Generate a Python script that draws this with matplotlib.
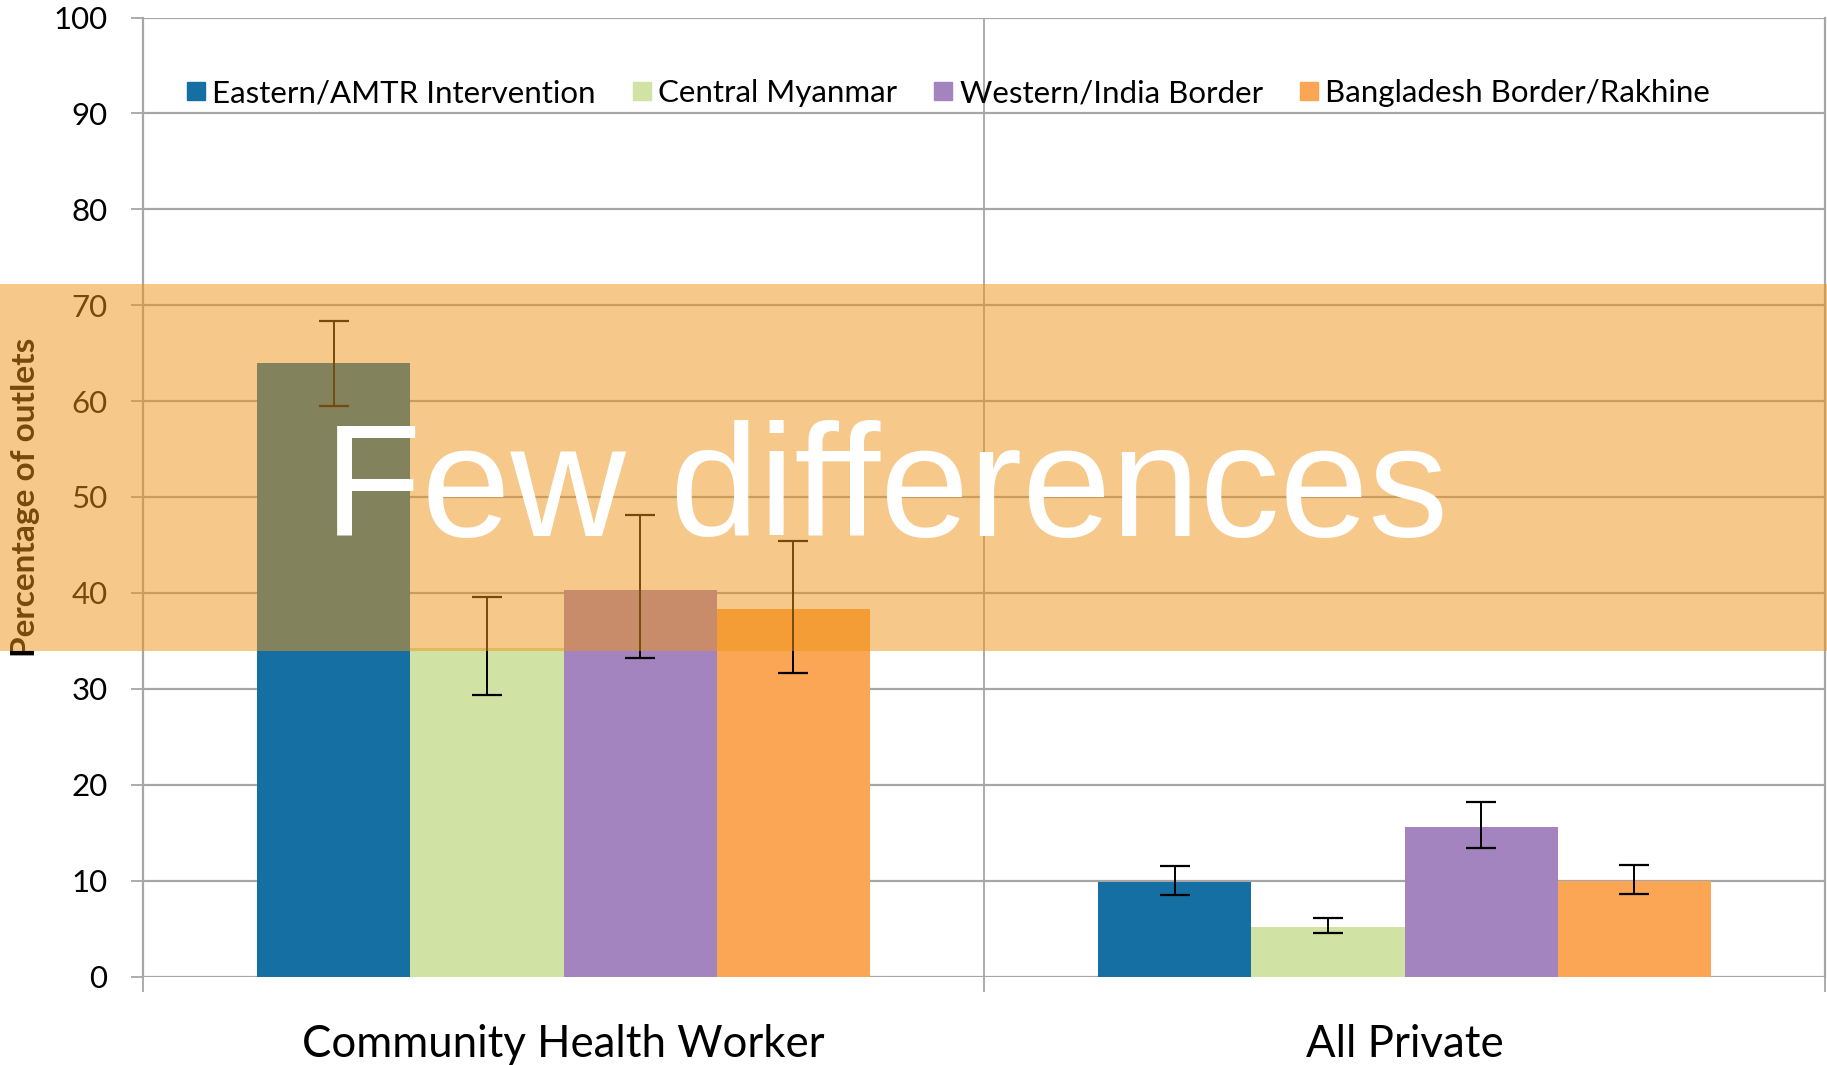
import matplotlib.pyplot as plt
import matplotlib.patches as mpatches
import matplotlib.transforms as mtransforms
from matplotlib.lines import Line2D
import numpy as np

# Data
groups = ['Community Health Worker', 'All Private']
regions = ['Eastern/AMTR Intervention', 'Central Myanmar',
           'Western/India Border', 'Bangladesh Border/Rakhine']
colors = ['#166fa3', '#d1e2a5', '#a484be', '#fba654']

eastern = [64.0, 9.9]
central = [34.3, 5.2]
western = [40.3, 15.6]
bangladesh = [38.3, 10.0]

eastern_ci = [[59.5, 8.5], [68.4, 11.5]]
central_ci = [[29.4, 4.5], [39.6, 6.1]]
western_ci = [[33.2, 13.4], [48.1, 18.2]]
bangladesh_ci = [[31.6, 8.6], [45.4, 11.6]]

band_low, band_high = 33.9, 72.2
overlay_text = 'Few differences'

values = [eastern, central, western, bangladesh]
cis = [eastern_ci, central_ci, western_ci, bangladesh_ci]

plt.rcParams['font.family'] = ['Lato', 'DejaVu Sans']

fig = plt.figure(figsize=(18.27, 10.65), dpi=100)
ax = fig.add_axes([143 / 1827, 88.5 / 1065, 1682 / 1827, 959 / 1065])

grid_c = '#a6a6a6'
x = np.arange(len(groups))
w = 0.182
for i, (vals, ci, col, name) in enumerate(zip(values, cis, colors, regions)):
    pos = x + (i - 1.5) * w
    vals = np.array(vals)
    lo = np.array(ci[0])
    hi = np.array(ci[1])
    ax.bar(pos, vals, width=w, color=col, zorder=2, label=name)
    ax.errorbar(pos, vals, yerr=[vals - lo, hi - vals], fmt='none',
                ecolor='black', elinewidth=1.4, capsize=11, capthick=1.6, zorder=3)

# Axes styling
ax.set_xlim(-0.5, 1.5)
ax.set_ylim(0, 100)
ax.set_yticks(np.arange(0, 101, 10))
ax.yaxis.grid(True, color=grid_c, linewidth=1.6, zorder=0)
ax.set_axisbelow(True)
ax.axvline(0.5, color=grid_c, linewidth=1.3, zorder=1)
for s in ['top', 'bottom']:
    ax.spines[s].set_visible(False)
for s in ['left', 'right']:
    ax.spines[s].set_color(grid_c)
    ax.spines[s].set_linewidth(1.6)

ax.set_xticks(x)
ax.set_xticklabels(groups, fontsize=31.5)
ax.set_xticks([-0.5, 0.5, 1.5], minor=True)
ax.tick_params(axis='x', which='major', length=0, pad=34)
ax.tick_params(axis='x', which='minor', length=11, width=1.3, color=grid_c)
ax.tick_params(axis='y', length=8.5, width=1.3, color=grid_c, labelsize=22.5, pad=17)

ax.set_ylabel('Percentage of outlets', fontsize=24, fontweight='bold')
ax.yaxis.set_label_coords(-0.061, 0.5)

handles = [Line2D([], [], marker='s', linestyle='none', markersize=13,
                  markerfacecolor=c, markeredgecolor=c) for c in colors]
ax.legend(handles, regions, loc='center', bbox_to_anchor=(0.479, 0.921),
          ncol=4, frameon=False, fontsize=22.5, handlelength=0.55,
          handletextpad=0.25, columnspacing=1.2)

# Highlight band across the figure
trans = mtransforms.blended_transform_factory(fig.transFigure, ax.transData)
band = mpatches.Rectangle((0, band_low), 1, band_high - band_low, transform=trans,
                          facecolor=(239 / 255, 149 / 255, 25 / 255), alpha=0.5,
                          edgecolor='none', clip_on=False, zorder=10)
ax.add_patch(band)

fig.text(324 / 1827, 1 - 536 / 1065, overlay_text, color='white', fontsize=115,
         family='Liberation Sans', ha='left', va='baseline')

fig.savefig('out.png', dpi=100)
